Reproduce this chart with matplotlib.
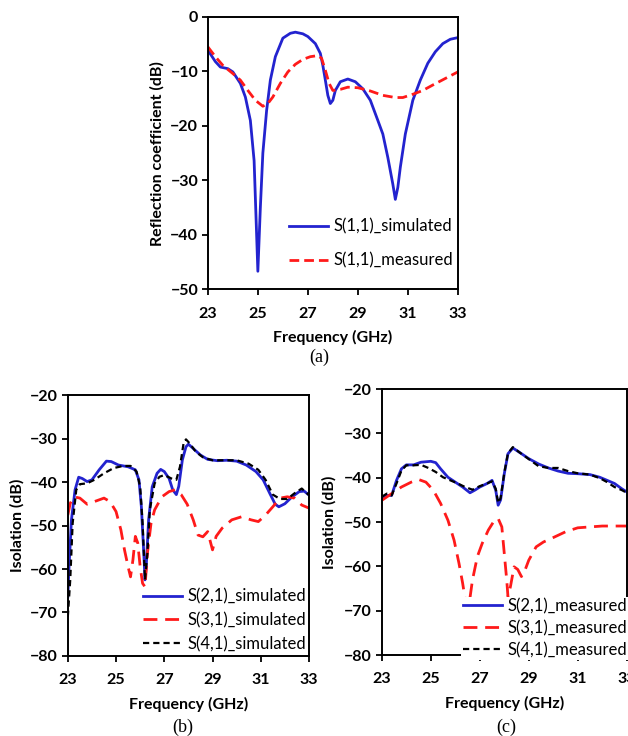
import matplotlib
matplotlib.use("Agg")
import matplotlib.pyplot as plt

# (a) reflection coefficient
s11_sim_f = [23.0, 23.3, 23.5, 23.8, 24.0, 24.3, 24.5, 24.7, 24.85, 25.0, 25.1, 25.2,
             25.35, 25.5, 25.7, 26.0, 26.3, 26.5, 26.8, 27.0, 27.3, 27.5, 27.6, 27.7,
             27.8, 27.9, 28.0, 28.1, 28.3, 28.6, 28.9, 29.2, 29.5, 29.8, 30.0, 30.2,
             30.4, 30.5, 30.6, 30.7, 30.9, 31.2, 31.5, 31.8, 32.1, 32.4, 32.7, 33.0]
s11_sim = [-6.1, -8.2, -9.2, -9.5, -10.1, -12.2, -14.7, -19.0, -26.4, -46.7, -35.0, -25.0,
           -17.2, -11.6, -7.3, -3.9, -3.0, -2.8, -3.1, -3.6, -4.9, -6.7, -8.9, -11.6,
           -14.4, -15.9, -15.3, -13.5, -11.9, -11.4, -11.9, -13.2, -15.3, -19.0, -21.5, -25.8,
           -30.7, -33.5, -31.3, -27.6, -21.5, -15.3, -11.6, -8.5, -6.4, -4.9, -4.1, -3.8]

s11_meas_f = [23.0, 23.3, 23.6, 24.0, 24.3, 24.6, 24.9, 25.2, 25.4, 25.6, 25.9, 26.2,
              26.5, 26.8, 27.1, 27.4, 27.55, 27.7, 27.85, 28.0, 28.3, 28.6, 29.0, 29.5,
              30.0, 30.5, 30.8, 31.2, 31.6, 32.0, 32.5, 33.0]
s11_meas = [-5.5, -7.3, -8.9, -10.4, -11.6, -13.5, -15.3, -16.4, -15.9, -14.7, -12.2, -10.1,
            -8.7, -7.8, -7.3, -7.1, -7.6, -9.8, -12.2, -13.5, -13.3, -12.9, -13.0, -13.6,
            -14.4, -14.8, -14.8, -14.2, -13.5, -12.5, -11.3, -10.1]

# (b) simulated isolation
s21_sim_f = [23.0, 23.05, 23.15, 23.3, 23.45, 23.6, 23.8, 24.0, 24.3, 24.6, 24.8, 25.1,
             25.5, 25.8, 25.95, 26.05, 26.15, 26.2, 26.25, 26.35, 26.5, 26.7, 26.85, 27.0,
             27.2, 27.35, 27.5, 27.6, 27.75, 27.9, 28.0, 28.2, 28.5, 28.8, 29.2, 29.6,
             30.0, 30.4, 30.8, 31.1, 31.4, 31.6, 31.75, 32.0, 32.3, 32.6, 32.8, 33.0]
s21_sim = [-66.4, -59.5, -48.7, -41.8, -38.9, -39.2, -39.9, -39.5, -37.2, -35.2, -35.3, -36.1,
           -36.5, -37.2, -39.5, -45.7, -56.4, -62.5, -59.5, -48.7, -41.1, -38.0, -37.1, -37.6,
           -39.2, -41.8, -42.9, -41.0, -34.9, -31.9, -31.3, -32.3, -33.8, -34.8, -35.1, -35.0,
           -35.2, -36.1, -37.6, -39.5, -42.9, -45.1, -45.7, -45.0, -43.4, -42.2, -42.1, -43.0]

s31_sim_f = [23.0, 23.1, 23.25, 23.5, 23.8, 24.1, 24.5, 24.75, 25.0, 25.2, 25.35, 25.5,
             25.6, 25.7, 25.8, 25.9, 26.0, 26.1, 26.2, 26.3, 26.45, 26.6, 26.9, 27.2,
             27.45, 27.7, 27.95, 28.2, 28.4, 28.6, 28.8, 29.0, 29.15, 29.4, 29.8, 30.2,
             30.6, 30.9, 31.2, 31.5, 31.8, 32.1, 32.4, 32.7, 33.0]
s31_sim = [-47.6, -44.9, -43.4, -43.7, -45.1, -44.5, -43.7, -44.5, -46.8, -51.0, -55.6, -59.5,
           -61.8, -57.9, -52.5, -54.0, -59.5, -63.3, -64.1, -56.4, -49.5, -46.4, -43.4, -42.2,
           -41.8, -42.9, -45.1, -48.7, -52.2, -52.6, -51.4, -55.6, -52.5, -50.6, -48.7, -48.0,
           -48.7, -49.1, -47.6, -45.7, -43.7, -43.4, -43.7, -45.3, -46.0]

s41_sim_f = [23.0, 23.1, 23.2, 23.35, 23.5, 23.8, 24.1, 24.5, 24.9, 25.3, 25.6, 25.85,
             26.0, 26.1, 26.2, 26.3, 26.4, 26.6, 26.8, 27.0, 27.3, 27.5, 27.65, 27.8,
             27.9, 28.05, 28.3, 28.6, 29.0, 29.5, 30.0, 30.5, 30.9, 31.2, 31.5, 31.8,
             32.1, 32.4, 32.7, 33.0]
s41_sim = [-71.0, -62.5, -49.5, -41.8, -40.5, -40.3, -39.5, -38.0, -36.8, -36.3, -36.3, -37.6,
           -41.1, -49.5, -62.5, -56.4, -46.4, -40.3, -38.8, -38.4, -39.2, -39.5, -36.5, -31.1,
           -30.2, -31.1, -33.0, -34.3, -35.0, -35.0, -35.0, -35.8, -37.2, -39.5, -42.9, -43.9,
           -43.9, -42.6, -41.5, -43.0]

# (c) measured isolation
s21_meas_f = [23.0, 23.2, 23.4, 23.6, 23.8, 24.0, 24.3, 24.6, 25.0, 25.2, 25.4, 25.7,
              26.0, 26.3, 26.6, 26.8, 27.0, 27.3, 27.5, 27.65, 27.75, 27.85, 28.0, 28.15,
              28.35, 28.6, 29.0, 29.4, 29.8, 30.2, 30.6, 31.0, 31.5, 31.9, 32.2, 32.5,
              32.8, 33.0]
s21_meas = [-44.7, -44.0, -44.0, -40.6, -38.0, -37.1, -37.1, -36.5, -36.3, -36.6, -38.0, -39.9,
            -41.0, -42.1, -43.4, -42.8, -42.1, -41.3, -40.6, -42.8, -46.2, -45.0, -39.1, -34.6,
            -33.3, -34.2, -35.7, -36.9, -37.8, -38.5, -39.0, -39.1, -39.3, -39.9, -40.6, -41.3,
            -42.5, -43.2]

s31_meas_f = [23.0, 23.4, 23.8, 24.2, 24.5, 24.8, 25.1, 25.4, 25.7, 25.95, 26.15, 26.3,
              26.45, 26.55, 26.7, 26.9, 27.1, 27.35, 27.6, 27.75, 27.9, 28.0, 28.1, 28.15,
              28.25, 28.4, 28.55, 28.7, 28.85, 29.0, 29.3, 29.6, 30.0, 30.5, 31.0, 31.5,
              32.0, 32.5, 33.0]
s31_meas = [-45.1, -43.6, -42.1, -41.0, -40.4, -41.0, -42.8, -45.8, -49.6, -54.1, -59.3, -63.8,
            -69.1, -69.1, -63.1, -57.8, -54.8, -51.8, -49.6, -49.2, -51.1, -57.1, -63.1, -66.8,
            -64.6, -60.1, -60.7, -62.3, -60.8, -58.6, -55.6, -54.5, -53.5, -52.2, -51.3, -51.1,
            -50.9, -50.9, -50.9]

s41_meas_f = [23.0, 23.2, 23.4, 23.6, 23.8, 24.0, 24.3, 24.6, 24.9, 25.2, 25.5, 25.8,
              26.1, 26.4, 26.7, 27.0, 27.3, 27.5, 27.65, 27.75, 27.85, 28.0, 28.15, 28.35,
              28.6, 29.0, 29.4, 29.8, 30.2, 30.6, 31.0, 31.5, 31.9, 32.2, 32.5, 32.8, 33.0]
s41_meas = [-44.3, -43.6, -44.0, -41.3, -38.4, -37.2, -37.2, -37.1, -37.8, -38.7, -39.9, -40.6,
            -41.3, -42.1, -42.7, -41.9, -41.3, -40.8, -42.5, -45.7, -44.6, -38.9, -34.5, -33.1,
            -34.2, -35.8, -37.4, -37.8, -37.8, -38.5, -39.0, -39.3, -40.1, -41.0, -42.1, -42.8,
            -43.4]

x_ticks = [23, 25, 27, 29, 31, 33]

BLUE = "#2323cf"
RED = "#ff1a1a"

plt.rcParams["font.family"] = ["Lato", "DejaVu Sans"]
plt.rcParams["axes.linewidth"] = 1.4


def style(ax, ylim, yticks, ylabel, ylab_x):
    ax.set_xlim(23, 33)
    ax.set_ylim(*ylim)
    ax.set_xticks(x_ticks)
    ax.set_yticks(yticks)
    ax.tick_params(direction="out", length=4, width=1.3, labelsize=11.5)
    ax.tick_params(axis="x", pad=8.5)
    ax.tick_params(axis="y", pad=3)
    for lab in ax.get_xticklabels() + ax.get_yticklabels():
        lab.set_fontweight("bold")
    ax.set_xlabel("Frequency (GHz)", fontsize=11.5, fontweight="bold", labelpad=7)
    ax.set_ylabel(ylabel, fontsize=11.5, fontweight="bold")
    ax.yaxis.set_label_coords(ylab_x, 0.5)


def legend(ax, anchor, spacing):
    leg = ax.legend(loc="upper left", bbox_to_anchor=anchor, fontsize=12,
                    handlelength=2.35, handletextpad=0.3, labelspacing=spacing,
                    borderpad=0.1, borderaxespad=0, frameon=True, fancybox=False)
    leg.get_frame().set_facecolor("white")
    leg.get_frame().set_edgecolor("none")
    leg.get_frame().set_alpha(1)


fig = plt.figure(figsize=(6.28, 7.36), dpi=100)

# (a)
ax = fig.add_axes([0.331, 0.607, 0.398, 0.370])
ax.plot(s11_sim_f, s11_sim, color=BLUE, lw=2.0, label="S(1,1)_simulated")
ax.plot(s11_meas_f, s11_meas, color=RED, lw=2.0, dashes=(3.5, 1.8), label="S(1,1)_measured")
style(ax, (-50, 0), range(-50, 1, 10), "Reflection coefficient (dB)", -0.172)
legend(ax, (0.318, 0.265), 1.07)

# (b)
ax = fig.add_axes([0.108, 0.1087, 0.384, 0.3546])
ax.plot(s21_sim_f, s21_sim, color=BLUE, lw=2.0, label="S(2,1)_simulated")
ax.plot(s31_sim_f, s31_sim, color=RED, lw=2.0, dashes=(5, 2.8), label="S(3,1)_simulated")
ax.plot(s41_sim_f, s41_sim, color="black", lw=1.6, dashes=(2.8, 1.8), label="S(4,1)_simulated")
style(ax, (-80, -20), range(-80, -19, 10), "Isolation (dB)", -0.178)
legend(ax, (0.305, 0.266), 0.47)

# (c)
ax = fig.add_axes([0.608, 0.110, 0.390, 0.3614])
ax.plot(s21_meas_f, s21_meas, color=BLUE, lw=2.0, label="S(2,1)_measured")
ax.plot(s31_meas_f, s31_meas, color=RED, lw=2.0, dashes=(5, 2.8), label="S(3,1)_measured")
ax.plot(s41_meas_f, s41_meas, color="black", lw=1.6, dashes=(2.8, 1.8), label="S(4,1)_measured")
style(ax, (-80, -20), range(-80, -19, 10), "Isolation (dB)", -0.184)
legend(ax, (0.325, 0.22), 0.35)

fig.text(319 / 628, 1 - 357 / 736, "(a)", family="Liberation Serif", fontsize=13,
         ha="center", va="center")
fig.text(183 / 628, 1 - 727 / 736, "(b)", family="Liberation Serif", fontsize=13,
         ha="center", va="center")
fig.text(506 / 628, 1 - 727 / 736, "(c)", family="Liberation Serif", fontsize=13,
         ha="center", va="center")

fig.savefig("out.png", dpi=100, facecolor="white")
